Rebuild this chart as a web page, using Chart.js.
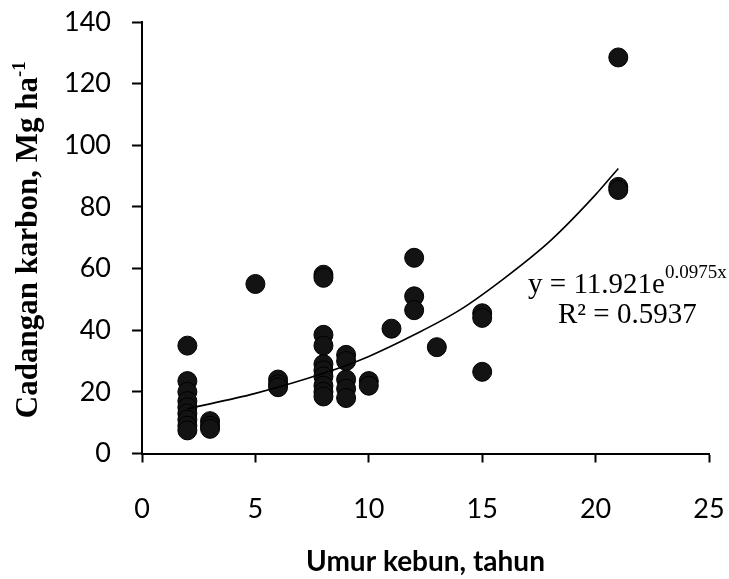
<!DOCTYPE html>
<html>
<head>
<meta charset="utf-8">
<script src="https://cdn.jsdelivr.net/npm/chart.js@4"></script>
<style>
  body { margin: 0; background: #fff; }
  #plotCanvas { display: block; }
</style>
</head>
<body>
<canvas id="plotCanvas" width="729" height="579"></canvas>
<script>
// umur kebun (tahun) vs cadangan karbon (Mg/ha)
var ageX = [2, 2, 2, 2, 2, 2, 2, 2, 2,
            3, 3, 3,
            5,
            6, 6, 6,
            8, 8, 8, 8, 8, 8, 8, 8, 8, 8,
            9, 9, 9, 9, 9,
            10, 10,
            11,
            12, 12, 12,
            13,
            15, 15, 15,
            21, 21, 21];
var carbonY = [35, 23.5, 20, 17, 15, 13, 11, 9, 7.5,
               10.5, 9, 8,
               55,
               24, 22.5, 21.5,
               58, 57, 38.5, 35, 29, 27, 25, 22, 20, 18.5,
               32, 30, 24, 21, 18,
               23.5, 22,
               40.5,
               63.5, 51, 46.5,
               34.5,
               45.5, 44, 26.5,
               128.5, 86.5, 85.5];

// trend curve at a few ages
var trendX = [2, 5, 8, 10, 12, 14, 16, 18, 20, 21];
var trendY = [14.5, 19.5, 26, 31.5, 38.5, 46.5, 57, 69, 84, 92.5];

var xTicks = [0, 5, 10, 15, 20, 25];
var yTicks = [0, 20, 40, 60, 80, 100, 120, 140];

var xTitle = 'Umur kebun, tahun';
var yTitle = 'Cadangan karbon, Mg ha';
var yTitleSup = '-1';
var eqMain = 'y = 11.921e';
var eqSup = '0.0975x';
var eqR2 = 'R\u00B2 = 0.5937';

var textPlugin = {
    id: 'chartTexts',
    afterDraw: function(chart) {
        var ctx = chart.ctx;
        var area = chart.chartArea;
        var xs = chart.scales.x;
        var ys = chart.scales.y;

        ctx.save();
        ctx.fillStyle = '#000';
        ctx.textBaseline = 'alphabetic';
        ctx.textAlign = 'left';

        // y title, rotated, with superscript
        ctx.font = 'bold 31px "Liberation Serif"';
        var mainW = ctx.measureText(yTitle).width;
        ctx.font = 'bold 19px "Liberation Serif"';
        var supW = ctx.measureText(yTitleSup).width;
        var total = mainW + supW;
        ctx.translate(37, (area.top + area.bottom) / 2 + 2);
        ctx.rotate(-Math.PI / 2);
        ctx.font = 'bold 31px "Liberation Serif"';
        ctx.fillText(yTitle, -total / 2, 0);
        ctx.font = 'bold 19px "Liberation Serif"';
        ctx.fillText(yTitleSup, -total / 2 + mainW, -12);
        ctx.restore();

        // equation
        ctx.save();
        ctx.fillStyle = '#000';
        ctx.textBaseline = 'alphabetic';
        var cx = xs.getPixelForValue(21.4);
        ctx.font = '29px "Liberation Serif"';
        var w1 = ctx.measureText(eqMain).width;
        ctx.font = '19px "Liberation Serif"';
        var w2 = ctx.measureText(eqSup).width;
        var x0 = cx - (w1 + w2) / 2;
        var b1 = ys.getPixelForValue(52);
        ctx.textAlign = 'left';
        ctx.font = '29px "Liberation Serif"';
        ctx.fillText(eqMain, x0, b1);
        ctx.font = '19px "Liberation Serif"';
        ctx.fillText(eqSup, x0 + w1, b1 - 15);
        ctx.textAlign = 'center';
        ctx.font = '29px "Liberation Serif"';
        ctx.fillText(eqR2, cx, ys.getPixelForValue(42.3));
        ctx.restore();
    }
};

var canvas = document.getElementById('plotCanvas');
var ctx = canvas.getContext('2d');

var data = {
    datasets: [{
        type: 'line',
        label: 'Trend',
        data: trendX.map((value, index) => ({ x: value, y: trendY[index] })),
        borderColor: '#000',
        borderWidth: 1.6,
        pointRadius: 0,
        cubicInterpolationMode: 'monotone',
        fill: false,
        order: 1
    }, {
        type: 'scatter',
        label: 'Cadangan karbon',
        data: ageX.map((value, index) => ({ x: value, y: carbonY[index] })),
        backgroundColor: '#131313',
        borderColor: '#000',
        borderWidth: 1,
        pointRadius: 9.5,
        order: 2
    }]
};

var axisGrid = {
    display: true,
    drawOnChartArea: false,
    drawTicks: true,
    tickLength: 10,
    tickColor: '#000',
    tickWidth: 2
};

var options = {
    responsive: false,
    animation: false,
    events: [],
    layout: { padding: { top: 22, right: 20, left: 0, bottom: 0 } },
    plugins: {
        legend: { display: false },
        tooltip: { enabled: false }
    },
    scales: {
        x: {
            type: 'linear',
            position: 'bottom',
            min: 0,
            max: 25,
            afterBuildTicks: function(scale) {
                scale.ticks = xTicks.map(v => ({ value: v }));
            },
            afterFit: function(scale) {
                scale.height = 125.5;
                scale.paddingLeft = 0;
                scale.paddingRight = 0;
            },
            grid: Object.assign({}, axisGrid, { tickLength: 9 }),
            border: { display: true, color: '#000', width: 2 },
            ticks: {
                color: '#000',
                padding: 31,
                maxRotation: 0,
                font: { family: 'Lato', size: 27 }
            },
            title: {
                display: true,
                text: xTitle,
                color: '#000',
                padding: { top: 0, bottom: 0 },
                font: { family: 'Lato', size: 28, weight: 'bold' }
            }
        },
        y: {
            type: 'linear',
            position: 'left',
            min: 0,
            max: 140,
            afterBuildTicks: function(scale) {
                scale.ticks = yTicks.map(v => ({ value: v }));
            },
            afterFit: function(scale) {
                scale.width = 142;
                scale.paddingTop = 0;
                scale.paddingBottom = 0;
            },
            grid: axisGrid,
            border: { display: true, color: '#000', width: 2 },
            ticks: {
                color: '#000',
                padding: 21,
                font: { family: 'Lato', size: 27 }
            }
        }
    }
};

new Chart(ctx, {
    type: 'scatter',
    data: data,
    options: options,
    plugins: [textPlugin]
});
</script>
</body>
</html>
